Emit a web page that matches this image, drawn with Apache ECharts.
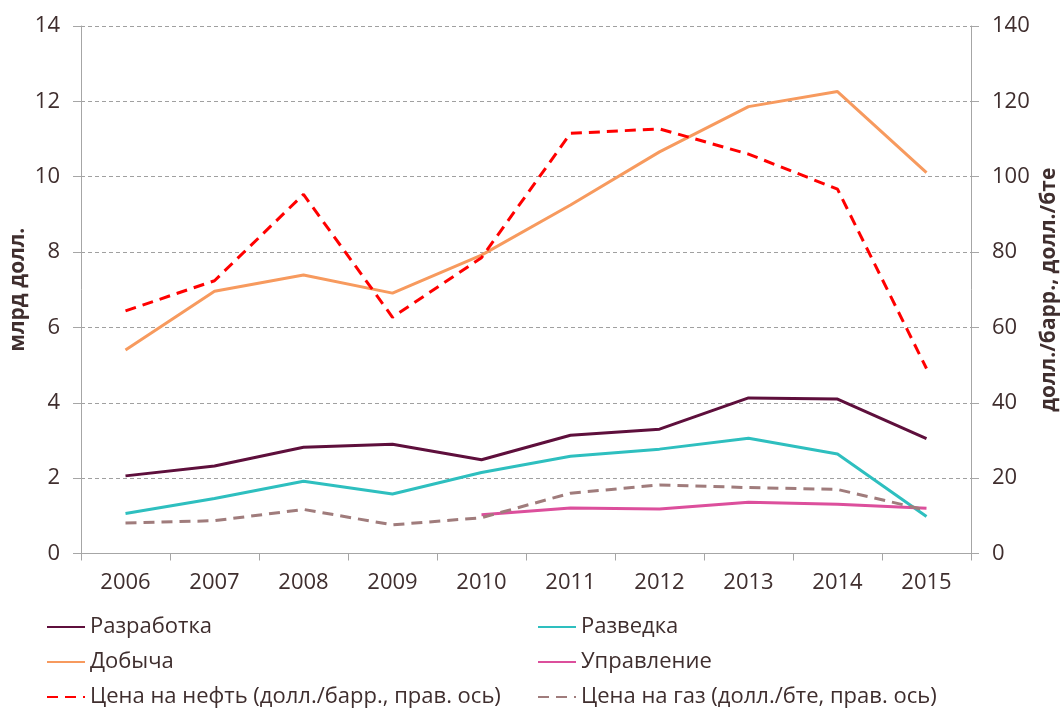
<!DOCTYPE html>
<html>
<head>
<meta charset="utf-8">
<script src="https://cdn.jsdelivr.net/npm/echarts@6/dist/echarts.min.js"></script>
<style>
html,body{margin:0;padding:0;background:#fff;}
#chart{width:1061px;height:710px;}
</style>
</head>
<body>
<div id="chart"></div>
<script>
const years = ['2006','2007','2008','2009','2010','2011','2012','2013','2014','2015'];
const razrabotka = [2.06, 2.32, 2.82, 2.90, 2.49, 3.14, 3.30, 4.13, 4.10, 3.05];
const razvedka   = [1.06, 1.46, 1.92, 1.58, 2.15, 2.58, 2.77, 3.06, 2.64, 0.98];
const dobycha    = [5.40, 6.96, 7.39, 6.91, 7.92, 9.25, 10.66, 11.86, 12.26, 10.11];
const upravlenie = [null, null, null, null, 1.03, 1.21, 1.18, 1.36, 1.31, 1.20];
const oilPrice   = [64.4, 72.4, 95.3, 62.7, 78.5, 111.5, 112.7, 106.0, 96.7, 49.1];
const gasPrice   = [8.1, 8.7, 11.7, 7.6, 9.5, 16.0, 18.2, 17.5, 17.0, 11.5];
const leftTicks = [0, 14, 2];
const rightTicks = [0, 140, 20];

const FONT = 'Open Sans';
const TXT = '#3F2E2E';
const AXIS = '#A6A6A6';
const FS = 22;

const names = {
  dev: 'Разработка', exp: 'Разведка', prod: 'Добыча', mgmt: 'Управление',
  oil: 'Цена на нефть (долл./барр., прав. ось)', gas: 'Цена на газ (долл./бте, прав. ось)'
};

const chart = echarts.init(document.getElementById('chart'));
function line(name, data, color, yIdx, dashed) {
  return {
    name, type: 'line', data, yAxisIndex: yIdx,
    symbol: 'none', showSymbol: false,
    connectNulls: false,
    lineStyle: { color, width: 3, type: dashed ? [11, 7] : 'solid', cap: 'butt' },
    itemStyle: { color },
    z: dashed ? 3 : 2
  };
}
const legendText = { fontFamily: FONT, fontSize: FS, color: TXT };
function leg(name, left, top) {
  return {
    left, top, padding: 0, orient: 'horizontal',
    itemWidth: 38, itemHeight: 14, itemGap: 0,
    itemStyle: { opacity: 0 },
    textStyle: legendText,
    data: [name]
  };
}
chart.setOption({
  animation: false,
  textStyle: { fontFamily: FONT },
  grid: { left: 81, right: 90, top: 26, bottom: 156.5, outerBoundsMode: 'none', containLabel: false },
  legend: [
    leg(names.dev, 46, 616),
    leg(names.prod, 46, 651),
    leg(names.oil, 46, 686),
    leg(names.exp, 537, 616),
    leg(names.mgmt, 537, 651),
    leg(names.gas, 537, 686)
  ],
  xAxis: {
    type: 'category', data: years, boundaryGap: true,
    axisLine: { lineStyle: { color: AXIS, width: 1 } },
    axisTick: { show: true, length: 7, lineStyle: { color: AXIS } },
    axisLabel: { color: TXT, fontSize: FS, fontFamily: FONT, margin: 18 }
  },
  yAxis: [
    {
      type: 'value', min: leftTicks[0], max: leftTicks[1], interval: leftTicks[2],
      name: 'млрд долл.', nameLocation: 'middle', nameGap: 52, nameRotate: 90, nameMoveOverlap: false,
      nameTextStyle: { color: TXT, fontSize: 21, fontWeight: 'bold', fontFamily: FONT },
      axisLine: { show: true, lineStyle: { color: AXIS } },
      axisTick: { show: true, length: 8, lineStyle: { color: AXIS } },
      axisLabel: { color: TXT, fontSize: FS, fontFamily: FONT, margin: 21 },
      splitLine: { show: true, lineStyle: { color: '#A0A0A0', type: [4, 3], width: 1 } }
    },
    {
      type: 'value', min: rightTicks[0], max: rightTicks[1], interval: rightTicks[2], position: 'right',
      name: 'долл./барр., долл./бте', nameLocation: 'middle', nameGap: 68, nameRotate: 90, nameMoveOverlap: false,
      nameTextStyle: { color: TXT, fontSize: 21, fontWeight: 'bold', fontFamily: FONT },
      axisLine: { show: true, lineStyle: { color: AXIS } },
      axisTick: { show: true, length: 8, lineStyle: { color: AXIS } },
      axisLabel: { color: TXT, fontSize: FS, fontFamily: FONT, margin: 21 },
      splitLine: { show: false }
    }
  ],
  series: [
    line(names.dev, razrabotka, '#5E0F3C', 0, false),
    line(names.exp, razvedka, '#2EBFBF', 0, false),
    line(names.prod, dobycha, '#F79A5E', 0, false),
    line(names.mgmt, upravlenie, '#DC4F9C', 0, false),
    line(names.oil, oilPrice, '#FF0000', 1, true),
    line(names.gas, gasPrice, '#A07C7C', 1, true)
  ]
});
</script>
</body>
</html>
